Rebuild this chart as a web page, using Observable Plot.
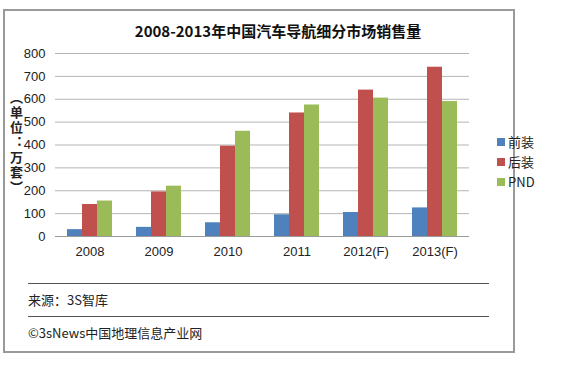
<!DOCTYPE html>
<html><head><meta charset="utf-8">
<script src="https://cdn.jsdelivr.net/npm/d3@7"></script>
<script src="https://cdn.jsdelivr.net/npm/@observablehq/plot@0.6"></script>
<style>
body{margin:0;background:#fff;width:563px;height:365px;position:relative;overflow:hidden;font-family:"Liberation Sans","Noto Sans CJK SC",sans-serif;color:#222}
#frame{position:absolute;left:3px;top:9px;width:508px;height:340px;border:2px solid #9a9a9a;box-sizing:content-box}
#chart{position:absolute;left:0;top:0}
.abs{position:absolute;white-space:nowrap}
#title{left:0;width:556px;top:20px;text-align:center;font:bold 15px "Noto Sans CJK SC","Liberation Sans",sans-serif;color:#111}
#ylab{left:7px;top:91px;writing-mode:vertical-rl;font:bold 13px "Noto Sans CJK SC",sans-serif;letter-spacing:2px;color:#222}
.leg{left:497px;font:13px "Noto Sans CJK SC","Liberation Sans",sans-serif;display:flex;align-items:center;gap:3px}
.sw{width:8px;height:8px;display:inline-block}
.hr{left:28px;width:461px;height:0;border-top:1px solid #555}
.foot{left:28px;font:13px "Noto Sans CJK SC","Liberation Sans",sans-serif;color:#222}
</style></head>
<body>
<div id="frame"></div>
<div id="chart"></div>
<div id="title" class="abs"></div>
<div id="ylab" class="abs"></div>
<div id="legend"></div>
<div class="abs hr" style="top:283px"></div>
<div class="abs foot" id="src" style="top:290px"></div>
<div class="abs hr" style="top:316px"></div>
<div class="abs foot" id="copy" style="top:323px"></div>
<script>
const years = ["2008","2009","2010","2011","2012(F)","2013(F)"];
const seriesNames = ["前装","后装","PND"];
const frontValues = [30, 40, 60, 95, 105, 125];
const afterValues = [140, 195, 395, 540, 640, 740];
const pndValues = [155, 220, 460, 575, 605, 590];
const yTicks = [0,100,200,300,400,500,600,700,800];
const colors = ["#4F81BD","#C0504D","#9BBB59"];
const titleText = "2008-2013年中国汽车导航细分市场销售量";
const yLabelText = "（单位：万套）";
const sourceText = "来源：3S智库";
const copyText = "©3sNews中国地理信息产业网";

const allSeries = [frontValues, afterValues, pndValues];
const data = [];
allSeries.forEach((vals, si) => vals.forEach((v, i) => data.push({year: years[i], series: seriesNames[si], value: v})));

// bar offsets inside each 69px band: group of 3 x 15px, centred
const insets = [[12,42],[27,27],[42,12]];

const plot = Plot.plot({
  width: 563, height: 265,
  marginLeft: 55, marginRight: 94, marginTop: 53, marginBottom: 29,
  style: {fontFamily: '"Liberation Sans", sans-serif', fontSize: "13px", color: "#222", background: "transparent"},
  x: {domain: years, padding: 0, label: null, tickSize: 0, tickPadding: 10},
  y: {domain: [0, 800], ticks: yTicks, label: null, tickSize: 0, tickPadding: 10},
  marks: [
    Plot.ruleY(yTicks.filter(t => t > 0), {stroke: "#b4b4b4", strokeWidth: 1}),
    ...seriesNames.map((s, si) => Plot.barY(data.filter(d => d.series === s), {
      x: "year", y: "value", fill: colors[si],
      insetLeft: insets[si][0], insetRight: insets[si][1]
    })),
    Plot.ruleY([0], {stroke: "#9a9a9a", strokeWidth: 1})
  ]
});
document.getElementById("chart").appendChild(plot);

document.getElementById("title").textContent = titleText;
document.getElementById("ylab").textContent = yLabelText;
document.getElementById("src").textContent = sourceText;
document.getElementById("copy").textContent = copyText;
const legTops = [132, 152, 172];
const leg = document.getElementById("legend");
seriesNames.forEach((s, i) => {
  const d = document.createElement("div");
  d.className = "abs leg";
  d.style.top = legTops[i] + "px";
  const sw = document.createElement("span");
  sw.className = "sw"; sw.style.background = colors[i];
  const t = document.createElement("span"); t.textContent = s;
  d.appendChild(sw); d.appendChild(t);
  leg.appendChild(d);
});
</script>
</body></html>
